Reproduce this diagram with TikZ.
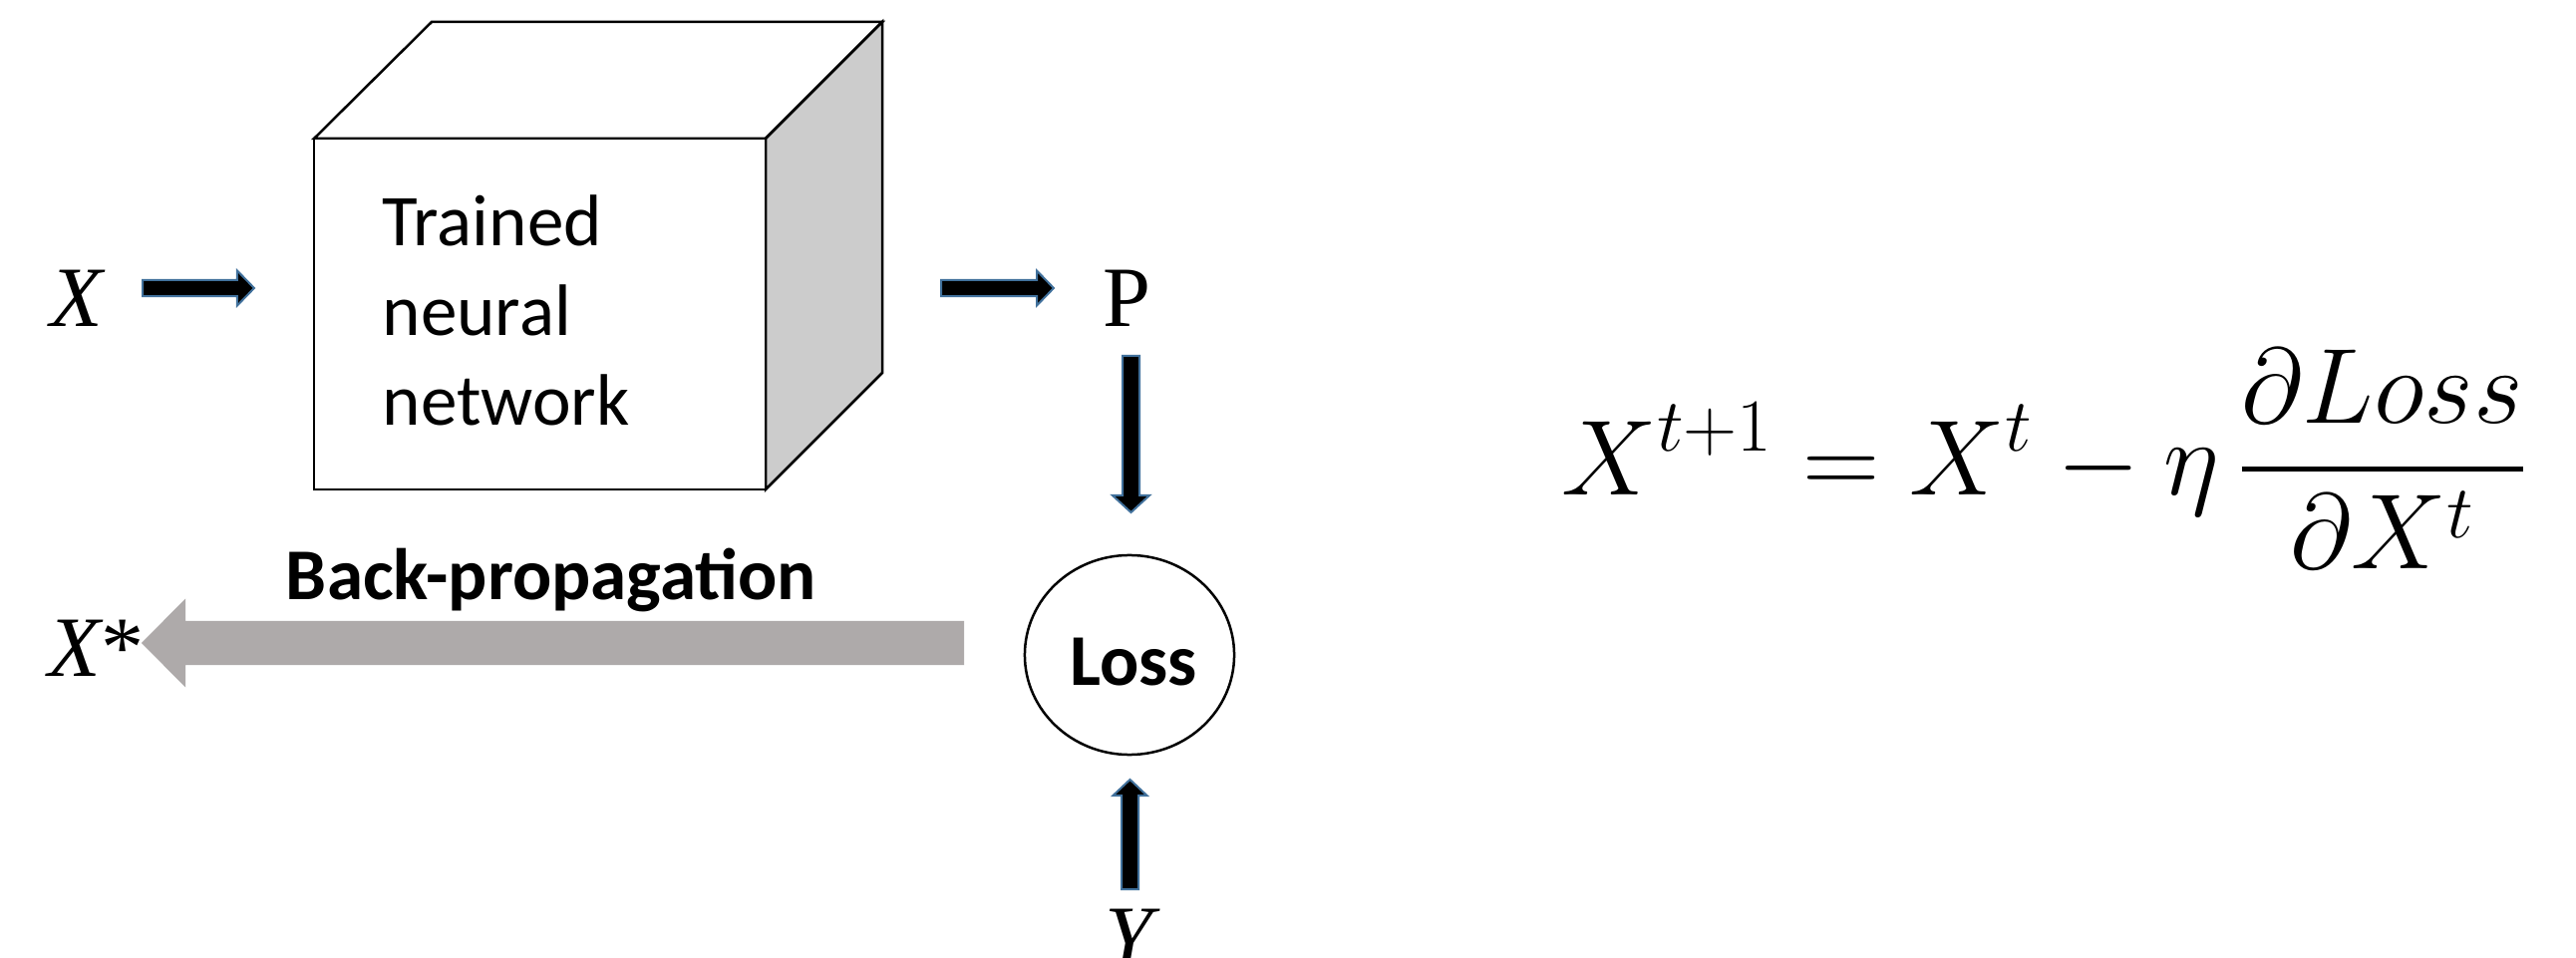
\RequirePackage{fix-cm}
\documentclass[tikz,border=0pt]{standalone}
\usepackage{amsmath}
\usepackage[no-math]{fontspec}
\newfontfamily\carl{Carlito}
\newfontfamily\tnr{Liberation Serif}
\usetikzlibrary{calc,shapes.geometric}
\definecolor{edgeblue}{RGB}{65,113,156}
\definecolor{bpgray}{RGB}{174,170,170}
\definecolor{sidegray}{RGB}{204,204,204}
\tikzset{
  blackarrow/.style={fill=black, draw=edgeblue, line width=0.02cm, line join=miter},
  grayarrow/.style={fill=bpgray, draw=none},
  cubeedge/.style={draw=black, line width=0.025cm, line join=miter},
  lbl/.style={font=\tnr\fontsize{24.5}{29}\selectfont, inner sep=0pt, anchor=base west},
  bodytext/.style={font=\carl\fontsize{20.8}{25.6}\selectfont, inner sep=0pt, anchor=base west, align=left},
  boldtext/.style={font=\carl\bfseries\fontsize{20.8}{25.6}\selectfont, inner sep=0pt, anchor=base},
}
% #1 style, #2 start, #3 tip, #4 half shaft width, #5 half head width, #6 head length
\newcommand\blockarrow[6]{%
  \coordinate (ba-h) at ($(#3)!#6!(#2)$);
  \draw[#1] ($(#2)!#4!90:(#3)$) -- ($(ba-h)!#4!90:(#3)$) -- ($(ba-h)!#5!90:(#3)$)
    -- (#3) -- ($(ba-h)!#5!-90:(#3)$) -- ($(ba-h)!#4!-90:(#3)$) -- ($(#2)!#4!-90:(#3)$) -- cycle;}
\begin{document}
\begin{tikzpicture}[x=0.01cm,y=-0.01cm]
\useasboundingbox (0,0) rectangle (2584,961);
\fill[white] (0,0) rectangle (2584,961);
\clip (0,0) rectangle (2584,961);

% cube
\coordinate (fTL) at (315,139);
\coordinate (fTR) at (768,139);
\coordinate (fBR) at (768,491);
\coordinate (fBL) at (315,491);
\coordinate (bTL) at (433,22);
\coordinate (bTR) at (885,22);
\coordinate (bBR) at (885,374);
\filldraw[cubeedge, fill=white] (fTL) -- (bTL) -- (bTR) -- (fTR) -- cycle;
\filldraw[cubeedge, fill=sidegray] (fTR) -- (bTR) -- (bBR) -- (fBR) -- cycle;
\filldraw[cubeedge, fill=white] (fTL) rectangle (fBR);
\node[bodytext] (nn) at (383,427) {Trained\\neural\\network};

% labels
\node[lbl] (xin) at (50,328) {\itshape X};
\node[lbl] (p) at (1106,328) {P};
\node[lbl] (xstar) at (48,679) {\itshape X\upshape*};
\node[lbl] (y) at (1108,968) {\itshape Y};

% loss
\node[draw, ellipse, line width=0.025cm, minimum width=2.1cm, minimum height=2.0cm, inner sep=0pt] (loss) at (1133,657) {};
\node[boldtext] (losstext) at (1137,687) {Loss};
\node[boldtext] (bp) at (553,602) {Back-propagation};

% arrows
\coordinate (xa1) at (143,289); \coordinate (xa2) at (255,289);
\coordinate (pa1) at (944,289); \coordinate (pa2) at (1057,289);
\coordinate (da1) at (1134.5,357); \coordinate (da2) at (1134.5,514);
\coordinate (ua1) at (1133.5,892); \coordinate (ua2) at (1133.5,782);
\coordinate (ga1) at (967,645); \coordinate (ga2) at (142,645);
\blockarrow{blackarrow}{xa1}{xa2}{0.08cm}{0.175cm}{0.17cm}
\blockarrow{blackarrow}{pa1}{pa2}{0.08cm}{0.175cm}{0.17cm}
\blockarrow{blackarrow}{da1}{da2}{0.085cm}{0.185cm}{0.17cm}
\blockarrow{blackarrow}{ua1}{ua2}{0.085cm}{0.17cm}{0.16cm}
\blockarrow{grayarrow}{ga1}{ga2}{0.22cm}{0.445cm}{0.44cm}

% formula
\node[anchor=base west, inner sep=0pt, font=\fontsize{30.5}{36}\selectfont] (eq) at (1566,497)
  {$\displaystyle X^{t+1}=X^{t}-\eta\,\genfrac{}{}{1.4pt}{0}{\partial Loss}{\partial X^{t}}$};
\end{tikzpicture}
\end{document}
